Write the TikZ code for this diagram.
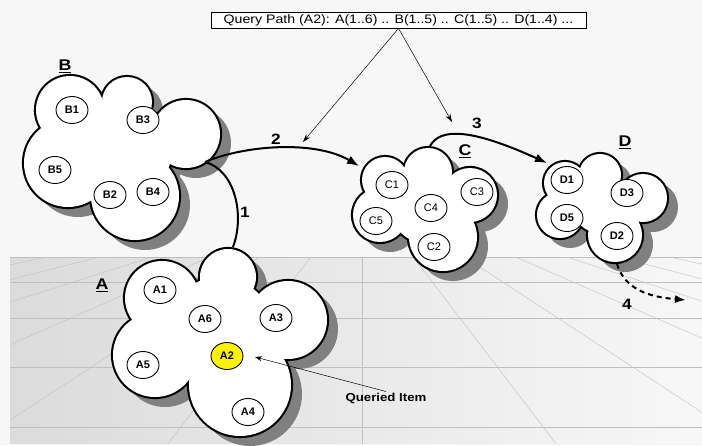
\documentclass[tikz,border=0pt]{standalone}
\usepackage{fontspec}
\setmainfont{Liberation Sans}
\usepackage{graphicx}
\usetikzlibrary{arrows.meta,shapes.geometric}
\newcommand\sx[1]{\scalebox{1.15}[1]{#1}}
\newcommand\drawcloud[1]{%
  \foreach \cx/\cy/\cr in {#1} \fill[cloudshadow] (\cx+10,\cy+9) circle[radius=\cr];
  \foreach \cx/\cy/\cr in {#1} \fill[black] (\cx,\cy) circle[radius=\cr+1.1];
  \foreach \cx/\cy/\cr in {#1} \fill[white] (\cx,\cy) circle[radius=\cr-1];
}
\colorlet{cloudshadow}{black!50}
\colorlet{gridline}{black!25}
\begin{document}
\begin{tikzpicture}[x=1pt,y=-1pt,
  item/.style={ellipse,draw,line width=0.9pt,fill=white,minimum width=32pt,minimum height=27pt,inner sep=0pt,font=\bfseries\fontsize{11}{11}\selectfont},
  citem/.style={item,font=\fontsize{11}{11}\selectfont},
  hit/.style={item,fill=yellow},
  clabel/.style={font=\bfseries\fontsize{15.5}{15.5}\selectfont},
  numlab/.style={font=\bfseries\fontsize{15}{15}\selectfont},
  link/.style={line width=2pt},
  thinarrow/.style={line width=0.5pt,-{Stealth[length=8pt,width=5pt]}}]
\useasboundingbox (0,0) rectangle (702,445);
% background
\fill[black!3] (0,0) rectangle (702,445);
\shade[left color=black!14,right color=black!3] (10,257) rectangle (702,443);
\begin{scope}
  \clip (10,257) rectangle (702,443);
  \foreach \b in {-1600,-1400,-1200,-1000,-800,-580,-390,-195,195,390,585,780,975,1170,1365,1560}
    \draw[gridline,line width=0.4pt] (362,190) -- (362+\b,445);
  \foreach \h in {257,282,318,367,427}
    \draw[gridline,line width=0.9pt] (10,\h) -- (702,\h);
  \draw[gridline,line width=0.9pt] (362,257) -- (362,445);
\end{scope}
% clouds
\drawcloud{70/110/35,127/102/26,186/134/35,68/163/45,135/196/45,125/150/48}
\drawcloud{385/180/24,428/172/25,470/195/28,443/237/35,380/215/28,425/210/34}
\drawcloud{565/183/22,600/175/22,643/198/25,615/235/28,560/215/24,600/205/29}
\drawcloud{228/277/29,162/298/38,288/320/40,155/355/43,240/385/52,220/330/54}
% cloud labels
\node[clabel] (labB) at (65,66) {\sx{\underline{B}}};
\node[clabel] (labA) at (102,285) {\sx{\underline{A}}};
\node[clabel] (labC) at (465,151) {\sx{\underline{C}}};
\node[clabel] (labD) at (625,142) {\sx{\underline{D}}};
% items
\node[item] (B1) at (72,110) {B1};
\node[item] (B3) at (143,120) {B3};
\node[item] (B5) at (55,170) {B5};
\node[item] (B2) at (110,195) {B2};
\node[item] (B4) at (153,192) {B4};
\node[item] (A1) at (160,290) {A1};
\node[item] (A6) at (205,319) {A6};
\node[item] (A3) at (276,318) {A3};
\node[hit]  (A2) at (227,356) {A2};
\node[item] (A5) at (143,365) {A5};
\node[item] (A4) at (248,412) {A4};
\node[citem] (C1) at (392,185) {C1};
\node[citem] (C3) at (477,192) {C3};
\node[citem] (C4) at (431,208) {C4};
\node[citem] (C5) at (376,221) {C5};
\node[citem] (C2) at (434,247) {C2};
\node[item] (D1) at (567,180) {D1};
\node[item] (D3) at (627,193) {D3};
\node[item] (D5) at (567,218) {D5};
\node[item] (D2) at (617,236) {D2};
% ports
\coordinate (Bout) at (205,162);
\coordinate (Atop) at (233,247);
\coordinate (Cin) at (359,166);
\coordinate (Ctop) at (430,146);
\coordinate (Din) at (547,163);
\coordinate (Dbot) at (617,264);
\coordinate (next) at (686,300);
\coordinate (p2) at (303,142);
\coordinate (p3) at (452,122);
\coordinate (A2tip) at (255,357);
% query box
\node[draw,fill=white,line width=0.8pt,minimum width=375pt,minimum height=16pt,inner sep=0pt,
      font=\fontsize{12.3}{12.3}\selectfont] (query) at (398.5,20)
  {\sx{Query Path (A2): A(1..6) .. B(1..5) .. C(1..5) .. D(1..4) ...}};
\draw[thinarrow] (query.south) -- (p2);
\draw[thinarrow] (query.south) -- (p3);
% connectors
\draw[link] (Bout) .. controls (235,170) and (245,215) .. (Atop);
\draw[link,-{Latex[length=12pt,width=9pt]}] (Bout) .. controls (245,145) and (315,140) .. (Cin);
\draw[link,-{Latex[length=12pt,width=9pt]}] (Ctop) .. controls (440,128) and (470,128) .. (Din);
\draw[link,dash pattern=on 5pt off 4pt,-{Latex[length=11pt,width=8pt]}] (Dbot) .. controls (625,290) and (650,297) .. (next);
\node[numlab] (n1) at (245,212) {\sx{1}};
\node[numlab] (n2) at (276,139) {\sx{2}};
\node[numlab] (n3) at (477,123) {\sx{3}};
\node[numlab] (n4) at (627,304) {\sx{4}};
% queried item
\node[font=\bfseries\fontsize{11.5}{11.5}\selectfont,inner sep=1pt] (qi) at (386,398) {\sx{Queried Item}};
\draw[line width=0.5pt,-{Stealth[length=7pt,width=5pt]}] (qi.north) -- (A2tip);
\end{tikzpicture}
\end{document}
